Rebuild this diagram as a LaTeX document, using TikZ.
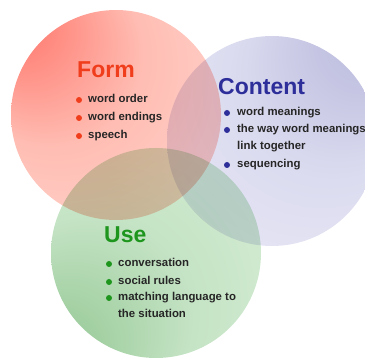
\documentclass[tikz,border=0pt]{standalone}
\usepackage{fontspec}
\setmainfont{Liberation Sans}
\usetikzlibrary{positioning}

\definecolor{formred}{RGB}{240,62,28}
\definecolor{contentblue}{RGB}{46,46,154}
\definecolor{usegreen}{RGB}{30,150,30}
\definecolor{textgray}{RGB}{38,38,38}

% soft glow for each circle, darkest spot off centre
\pgfdeclareradialshading{formglow}{\pgfpoint{-28bp}{26bp}}{rgb(0bp)=(1,0.42,0.38); rgb(22bp)=(1,0.74,0.70); rgb(50bp)=(1,0.88,0.86)}
\pgfdeclareradialshading{contentglow}{\pgfpoint{28bp}{30bp}}{rgb(0bp)=(0.70,0.70,0.85); rgb(24bp)=(0.86,0.86,0.94); rgb(50bp)=(0.93,0.93,0.97)}
\pgfdeclareradialshading{useglow}{\pgfpoint{-30bp}{-30bp}}{rgb(0bp)=(0.54,0.76,0.54); rgb(24bp)=(0.77,0.89,0.77); rgb(50bp)=(0.87,0.95,0.87)}

\begin{document}
\begin{tikzpicture}[x=1pt,y=-1pt]
	\tikzstyle{ring}=[circle,minimum size=210pt,inner sep=0pt,shade]
	\tikzstyle{title}=[anchor=base west,inner sep=0pt,font=\fontsize{23}{23}\selectfont\bfseries]
	\tikzstyle{item}=[anchor=base west,inner sep=0pt,align=left,text=textgray,font=\fontsize{11.4}{17}\selectfont\bfseries]
	\tikzstyle{dot}=[circle,inner sep=0pt,minimum size=6pt]
	\useasboundingbox (0,0) rectangle (365,358);

	% the three circles
	\begin{scope}[blend group=multiply]
		\node[ring,shading=formglow] (formC) at (116,115) {};
		\node[ring,shading=contentglow] (contentC) at (272,141) {};
		\node[ring,shading=useglow] (useC) at (156,253) {};
	\end{scope}

	% form (dot y / baseline of last line)
	\node[title,text=formred] (formT) at (77,78) {Form};
	\foreach \name/\txt/\y/\b in {fo1/word order/100/103, fo2/word endings/118/121, fo3/speech/136/139}{
		\node[dot,fill=formred] (\name dot) at (79,\y) {};
		\node[item] (\name) at (88,\b) {\txt};
	}

	% content
	\node[title,text=contentblue] (contentT) at (218,95) {Content};
	\foreach \name/\txt/\y/\b in {co1/word meanings/113/116, co2/{the way word meanings\\link together}/130/150, co3/sequencing/165/168}{
		\node[dot,fill=contentblue] (\name dot) at (227,\y) {};
		\node[item] (\name) at (237,\b) {\txt};
	}

	% use
	\node[title,text=usegreen] (useT) at (104,243) {Use};
	\foreach \name/\txt/\y/\b in {us1/conversation/264/267, us2/social rules/282/285, us3/{matching language to\\the situation}/298/318}{
		\node[dot,fill=usegreen] (\name dot) at (109,\y) {};
		\node[item] (\name) at (118,\b) {\txt};
	}
\end{tikzpicture}
\end{document}
